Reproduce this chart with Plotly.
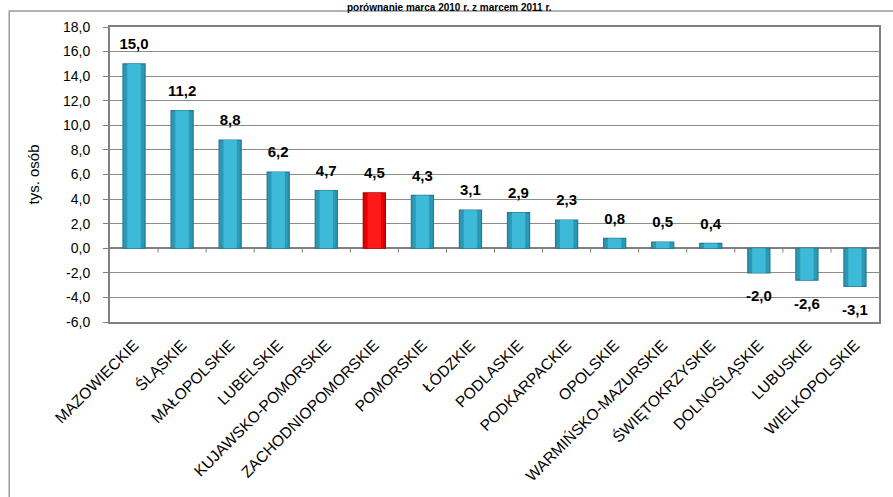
import plotly.graph_objects as go

categories = ["MAZOWIECKIE", "ŚLĄSKIE", "MAŁOPOLSKIE", "LUBELSKIE", "KUJAWSKO-POMORSKIE",
              "ZACHODNIOPOMORSKIE", "POMORSKIE", "ŁÓDZKIE", "PODLASKIE", "PODKARPACKIE",
              "OPOLSKIE", "WARMIŃSKO-MAZURSKIE", "ŚWIĘTOKRZYSKIE", "DOLNOŚLĄSKIE",
              "LUBUSKIE", "WIELKOPOLSKIE"]
values = [15.0, 11.2, 8.8, 6.2, 4.7, 4.5, 4.3, 3.1, 2.9, 2.3, 0.8, 0.5, 0.4, -2.0, -2.6, -3.1]
highlight = "ZACHODNIOPOMORSKIE"
y_tick_vals = [-6, -4, -2, 0, 2, 4, 6, 8, 10, 12, 14, 16, 18]
y_tick_text = ["-6,0", "-4,0", "-2,0", "0,0", "2,0", "4,0", "6,0", "8,0",
               "10,0", "12,0", "14,0", "16,0", "18,0"]
title_text = "porównanie marca 2010 r. z marcem 2011 r."
y_title = "tys. osób"

base_col = ["#E00000" if c == highlight else "#2C98B5" for c in categories]
edge_col = ["#A80000" if c == highlight else "#247A90" for c in categories]
light_col = ["#FF1A1A" if c == highlight else "#3DBADA" for c in categories]
labels = [f"{v:.1f}".replace(".", ",") for v in values]
label_pos = ["top center" if v >= 0 else "bottom center" for v in values]
label_pad = [16 if v >= 0 else 26 for v in values]
idx = list(range(len(categories)))

fig = go.Figure()
fig.add_trace(go.Bar(
    x=idx, y=values, width=0.46,
    marker=dict(color=base_col, line=dict(color=edge_col, width=1.2)),
    hoverinfo="skip",
))
fig.add_trace(go.Bar(
    x=idx, y=values, width=0.28,
    marker=dict(color=light_col, line=dict(width=0)),
    hoverinfo="skip",
))
fig.add_trace(go.Scatter(
    x=idx, y=values, mode="markers+text", text=labels, textposition=label_pos,
    marker=dict(size=label_pad, opacity=0), cliponaxis=False,
    textfont=dict(family="Liberation Sans, Arial", size=15, color="black", weight="bold"),
    hoverinfo="skip",
))

shapes = []
for i in range(len(categories) - 1):
    shapes.append(dict(type="line", xref="x", yref="y", x0=i + 0.5, x1=i + 0.5,
                       y0=0, y1=-0.35, line=dict(color="#808080", width=1)))
# outer chart frame
shapes.append(dict(type="rect", xref="paper", yref="paper", x0=-0.131, x1=1.06,
                   y0=-0.7, y1=1.054, line=dict(color="#9a9a9a", width=1.5), layer="below"))

fig.update_layout(
    width=893, height=497,
    margin=dict(l=110, r=12, t=27, b=175),
    paper_bgcolor="white", plot_bgcolor="white",
    showlegend=False,
    barmode="overlay",
    shapes=shapes,
    font=dict(family="Liberation Sans, Arial", color="black"),
    annotations=[dict(text="<b>" + title_text + "</b>", xref="paper", yref="paper",
                      x=0.441, y=1.0915, yanchor="top", showarrow=False,
                      font=dict(size=10, color="black"))],
)
fig.update_xaxes(
    tickmode="array", tickvals=idx, ticktext=categories, tickangle=-45,
    tickfont=dict(size=15.5), range=[-0.5, len(categories) - 0.5],
    showgrid=False, showline=True, linecolor="#808080", linewidth=2, mirror=True,
    ticks="", zeroline=False, ticklabelstandoff=6,
)
fig.update_yaxes(
    range=[-6, 18], tickmode="array", tickvals=y_tick_vals, ticktext=y_tick_text,
    tickfont=dict(size=14),
    showgrid=True, gridcolor="#8c8c8c", gridwidth=1,
    zeroline=True, zerolinecolor="#808080", zerolinewidth=1.5,
    showline=True, linecolor="#808080", linewidth=2, mirror=True,
    ticks="outside", ticklen=5, tickcolor="#808080", ticklabelstandoff=10,
    title=dict(text=y_title, font=dict(size=15), standoff=20),
)

fig.write_html("out.html", config={"displayModeBar": False},
               post_script="document.body.style.margin='0';")
